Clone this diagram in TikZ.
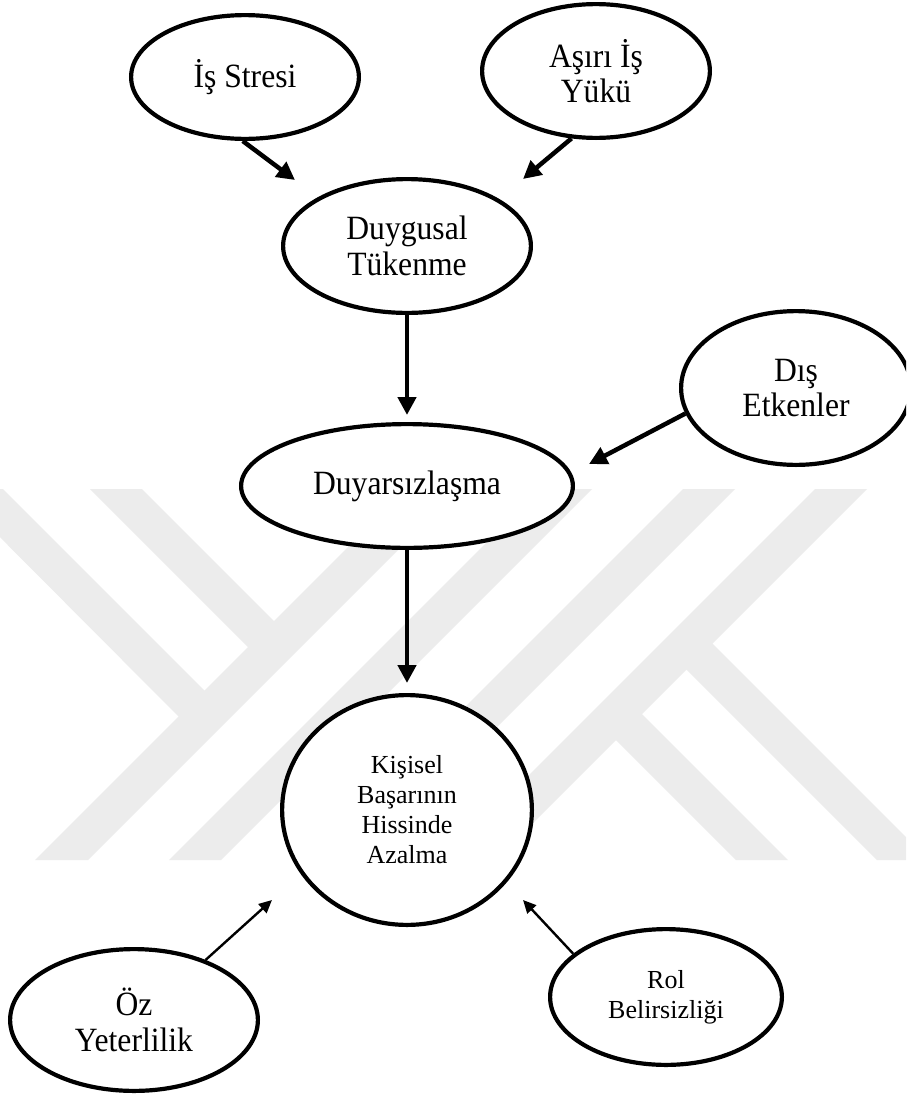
\documentclass[tikz,border=0pt]{standalone}
\usepackage{fontspec}
\setmainfont{Liberation Serif}
\newfontfamily\narrowserif{Liberation Serif}[FakeStretch=0.93]
\usetikzlibrary{shapes.geometric,arrows.meta}
\definecolor{wm}{RGB}{236,236,236}
\begin{document}
\begin{tikzpicture}[x=1pt,y=-1pt,
  bub/.style={ellipse,draw=black,line width=4.2pt,fill=white,inner sep=0pt,align=center},
  big/.style={font=\narrowserif\fontsize{34}{35.5}\selectfont},
  small/.style={font=\fontsize{26}{30}\selectfont},
  heavy/.style={line width=4.5pt,-{Triangle[length=18pt,width=18pt]}},
  light/.style={line width=2.4pt,-{Triangle[length=13pt,width=12pt]}},
  band/.style={fill=wm}]
\fill[white] (0,0) rectangle (906,1095);
\clip (0,0) rectangle (906,1095);

% background emblem: diagonal stripes
\fill[band] (-48,489) -- (3,489) -- (207,693) -- (181,719) -- cycle;
\fill[band] (90,489) -- (142,489) -- (276,623) -- (250,649) -- cycle;
\fill[band] (406,489) -- (459,489) -- (88,860) -- (35,860) -- cycle;
\fill[band] (540,489) -- (592,489) -- (221,860) -- (169,860) -- cycle;
\fill[band] (683,489) -- (735,489) -- (364,860) -- (312,860) -- cycle;
\fill[band] (815,489) -- (867,489) -- (496,860) -- (444,860) -- cycle;
\fill[band] (613,737) -- (639,711) -- (788,860) -- (736,860) -- cycle;
\fill[band] (684,667) -- (710,641) -- (929,860) -- (877,860) -- cycle;

% nodes
\node[bub,big,minimum width=227.8pt,minimum height=123.8pt] (stres) at (245,77) {İş Stresi};
\node[bub,big,minimum width=227.8pt,minimum height=133.8pt] (asiri) at (596,71) {Aşırı İş\\Yükü};
\node[bub,big,minimum width=247.8pt,minimum height=133.8pt] (duygusal) at (407,246) {Duygusal\\Tükenme};
\node[bub,big,minimum width=331.8pt,minimum height=123.8pt] (duyar) at (407,486) {Duyarsızlaşma};
\node[bub,big,minimum width=229.8pt,minimum height=153.8pt] (dis) at (796,388) {Dış\\Etkenler};
\node[bub,small,minimum width=249.8pt,minimum height=229.8pt] (kisisel) at (407,810) {Kişisel\\Başarının\\Hissinde\\Azalma};
\node[bub,big,minimum width=247.8pt,minimum height=141.8pt] (oz) at (134,1020) {Öz\\Yeterlilik};
\node[bub,small,minimum width=231.8pt,minimum height=135.8pt] (rol) at (666,997) {Rol\\Belirsizliği};

% free arrow ends
\coordinate (t1) at (295,180);
\coordinate (t2) at (523,179);
\coordinate (t3) at (589,464);
\coordinate (t4) at (272,900);
\coordinate (t5) at (523,900);

% connectors
\draw[heavy] (stres.268) -- (t1);
\draw[heavy] (asiri.250) -- (t2);
\draw[heavy,shorten >=7pt] (duygusal) -- (duyar);
\draw[heavy] (dis.193) -- (t3);
\draw[heavy,shorten >=10pt] (duyar) -- (kisisel);
\draw[light] (oz.40) -- (t4);
\draw[light] (rol.155) -- (t5);
\end{tikzpicture}
\end{document}
